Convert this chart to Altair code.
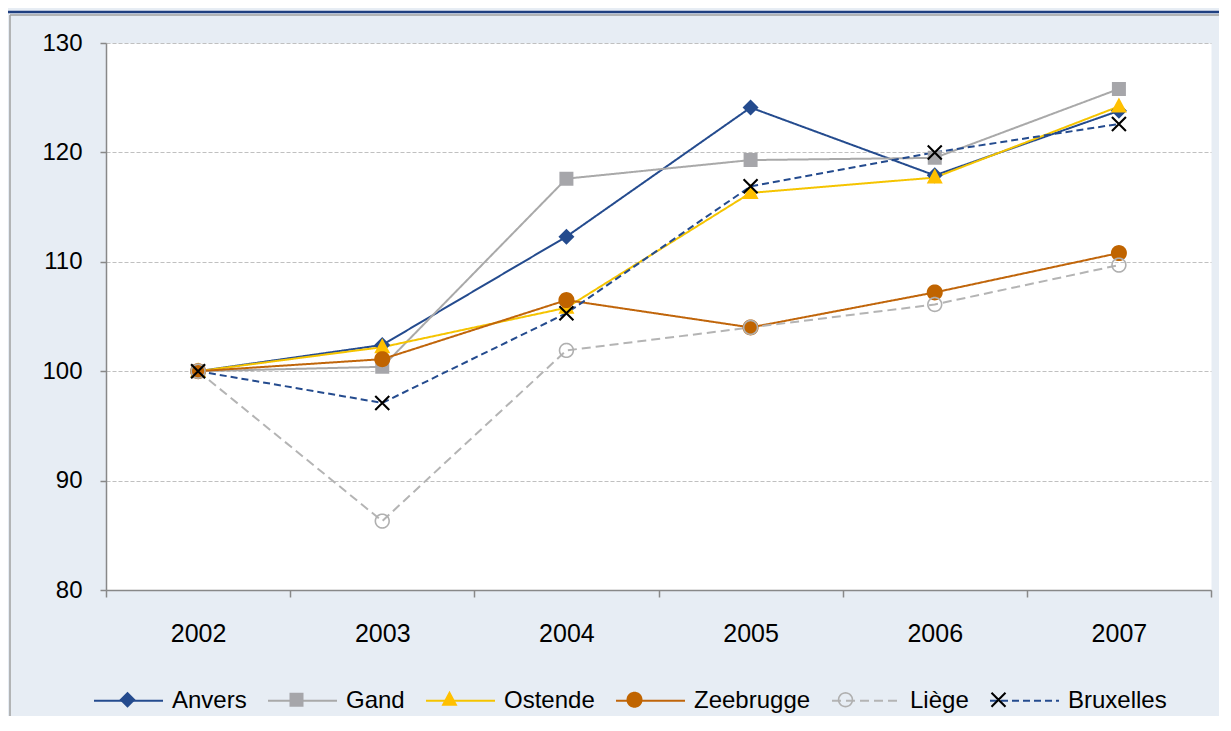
import math
import altair as alt
import pandas as pd

# ---------------- data ----------------
YEARS = ["2002", "2003", "2004", "2005", "2006", "2007"]
SERIES = ["Anvers", "Gand", "Ostende", "Zeebrugge", "Liège", "Bruxelles"]
ANVERS = [100.0, 102.4, 112.3, 124.1, 117.9, 123.8]
GAND = [100.0, 100.4, 117.6, 119.3, 119.5, 125.8]
OSTENDE = [100.0, 102.2, 105.8, 116.3, 117.7, 124.2]
ZEEBRUGGE = [100.0, 101.1, 106.5, 104.0, 107.2, 110.8]
LIEGE = [100.0, 86.3, 101.9, 104.0, 106.1, 109.7]
BRUXELLES = [100.0, 97.1, 105.3, 116.9, 120.0, 122.6]
Y_TICKS = [80, 90, 100, 110, 120, 130]

# ---------------- styles ----------------
LINE_COLORS = ["#244b8e", "#a9a9a9", "#f5c400", "#c0650a", "#b4b4b4", "#244b8e"]
MARKER_COLORS = ["#244b8e", "#a6a6aa", "#ffc000", "#c06400", "#b0b0b0", "#000000"]
DASHES = [[1, 0], [1, 0], [1, 0], [1, 0], [9, 5], [7, 4]]

rows = []
for name, vals in zip(SERIES, [ANVERS, GAND, OSTENDE, ZEEBRUGGE, LIEGE, BRUXELLES]):
    for yr, v in zip(YEARS, vals):
        rows.append({"year": yr, "series": name, "series_m": name, "value": v})
df = pd.DataFrame(rows)

# marker shapes, drawn in pixels at symbol size SYM (sqrt(SYM)/2 px per unit)
SYM = 4761
U = math.sqrt(SYM) / 2
PAD = "M-1,0L-1,0ZM1,0L1,0Z"


def poly(pts):
    return "M" + "L".join(f"{x / U:.4f},{y / U:.4f}" for x, y in pts) + "Z"


def ccw_fix(pts, want_positive=True):
    a = sum(pts[i][0] * pts[(i + 1) % len(pts)][1] - pts[(i + 1) % len(pts)][0] * pts[i][1]
            for i in range(len(pts)))
    if (a > 0) != want_positive:
        pts = pts[::-1]
    return pts


def circle(r, n=40, positive=True):
    pts = [(r * math.cos(2 * math.pi * k / n), r * math.sin(2 * math.pi * k / n)) for k in range(n)]
    return ccw_fix(pts, positive)


def bar(x0, y0, x1, y1, h):
    dx, dy = x1 - x0, y1 - y0
    L = math.hypot(dx, dy)
    nx, ny = -dy / L * h, dx / L * h
    pts = [(x0 + nx, y0 + ny), (x1 + nx, y1 + ny), (x1 - nx, y1 - ny), (x0 - nx, y0 - ny)]
    return ccw_fix(pts, True)


DIAMOND = poly([(0, -8), (8, 0), (0, 8), (-8, 0)]) + PAD
SQUARE = poly(ccw_fix([(-7, -7), (7, -7), (7, 7), (-7, 7)])) + PAD
TRIANGLE = poly([(0, -9), (8, 6), (-8, 6)]) + PAD
CIRCLE = poly(circle(8.0)) + PAD
RING = poly(circle(7.7, positive=True)) + poly(circle(6.1, positive=False)) + PAD
XMARK = poly(bar(-7, -7, 7, 7, 1.05)) + poly(bar(-7, 7, 7, -7, 1.05)) + PAD
SHAPES = [DIAMOND, SQUARE, TRIANGLE, CIRCLE, RING, XMARK]

FONT = "Liberation Sans"
BG = "#e7edf4"

legend_common = dict(
    orient="none", legendX=-13, legendY=622, direction="horizontal", columns=6,
    columnPadding=17, labelOffset=8, labelFont=FONT, labelFontSize=24,
    labelColor="black", symbolSize=SYM, title=None, padding=0,
)
LEG_LINES = alt.Legend(symbolType="stroke", symbolStrokeWidth=2, **legend_common)
LEG_MARKS = alt.Legend(labelOpacity=0, symbolStrokeWidth=0, **legend_common)

x_enc = alt.X(
    "year:N",
    scale=alt.Scale(type="band", domain=YEARS, paddingInner=0, paddingOuter=0),
    axis=alt.Axis(title=None, labelAngle=0, tickBand="extent", grid=False,
                  tickSize=7, labelPadding=24, labelFontSize=25),
)
y_enc = alt.Y(
    "value:Q",
    scale=alt.Scale(domain=[80, 130], nice=False, zero=False),
    axis=alt.Axis(title=None, values=Y_TICKS, grid=True, gridColor="#c0c0c0",
                  gridDash=[4, 2], gridWidth=1.2, tickSize=6, labelPadding=18,
                  labelFontSize=24),
)

base = alt.Chart(df)

lines = base.mark_line(strokeWidth=2).encode(
    x=x_enc,
    y=y_enc,
    stroke=alt.Stroke("series:N", sort=None, scale=alt.Scale(range=LINE_COLORS), legend=LEG_LINES),
    strokeDash=alt.StrokeDash("series:N", sort=None, scale=alt.Scale(range=DASHES), legend=LEG_LINES),
)

points = base.mark_point(filled=True, opacity=1, size=SYM, strokeWidth=0).encode(
    x=x_enc,
    y=y_enc,
    color=alt.Color("series_m:N", scale=alt.Scale(domain=SERIES, range=MARKER_COLORS), legend=LEG_MARKS),
    shape=alt.Shape("series_m:N", scale=alt.Scale(domain=SERIES, range=SHAPES), legend=LEG_MARKS),
)

deco = alt.Data(values=[{"k": 0}])
blue_line = alt.Chart(deco).mark_rule(color="#1f3f80", strokeWidth=2.5).encode(
    x=alt.value(-102), x2=alt.value(1140), y=alt.value(-31))
frame_top = alt.Chart(deco).mark_rule(color="#a0a0a0", strokeWidth=1.5).encode(
    x=alt.value(-96), x2=alt.value(1140), y=alt.value(-28))
frame_left = alt.Chart(deco).mark_rule(color="#a0a0a0", strokeWidth=1.5).encode(
    x=alt.value(-96), y=alt.value(-28), y2=alt.value(720))

chart = alt.layer(blue_line, frame_top, frame_left, lines, points).properties(
    width=1105,
    height=547,
    autosize=alt.AutoSizeParams(type="none"),
    padding={"left": 98, "top": 35, "right": 8, "bottom": 126},
    background=BG,
).configure_view(
    fill="white", stroke="transparent"
).configure_axis(
    labelFont=FONT, labelColor="black", domainColor="#888888", tickColor="#888888",
    domainWidth=1.5, tickWidth=1.5,
)

chart.save("out.html", embed_options={"renderer": "svg", "actions": False})
